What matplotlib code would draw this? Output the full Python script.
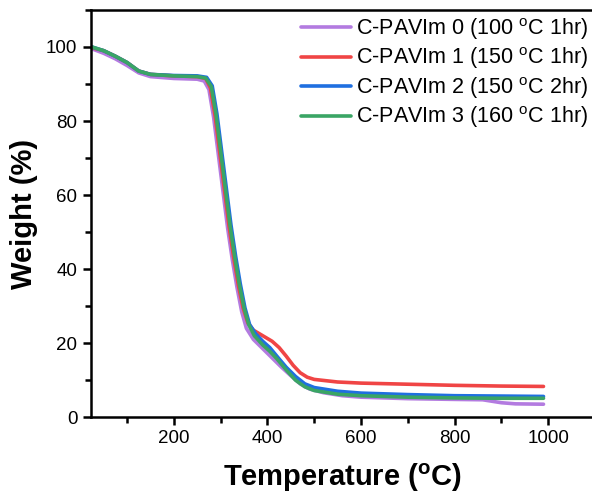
import matplotlib
matplotlib.use("Agg")
import matplotlib.pyplot as plt
from matplotlib.ticker import MultipleLocator

plt.rcParams['font.family'] = ['Liberation Sans', 'DejaVu Sans']
plt.rcParams['mathtext.fontset'] = 'custom'
plt.rcParams['mathtext.rm'] = 'Liberation Sans'

# --- data (temperature in C, weight in %) ---
t_purple = [25, 50, 75, 100, 125, 150, 200, 250, 265, 275, 285, 295, 305, 315, 325,
            335, 345, 355, 370, 390, 410, 430, 450, 470, 490, 520, 560, 600, 700,
            800, 860, 880, 900, 930, 990]
w_purple = [99.5, 98.3, 96.8, 95.0, 93.0, 92.0, 91.5, 91.3, 90.8, 88.5, 81.0, 71.0,
            61.0, 51.0, 42.5, 35.0, 28.5, 24.0, 21.0, 18.5, 16.0, 13.5, 11.2, 9.0,
            7.6, 6.6, 5.8, 5.4, 5.0, 4.8, 4.7, 4.3, 3.9, 3.6, 3.5]

t_red = [25, 50, 75, 100, 125, 150, 200, 250, 268, 278, 288, 298, 308, 318, 328,
         338, 348, 358, 370, 390, 410, 425, 440, 455, 470, 485, 500, 550, 600, 700,
         800, 900, 990]
w_red = [99.8, 99.0, 97.5, 95.8, 93.5, 92.6, 92.2, 92.0, 91.5, 89.0, 81.5, 71.5,
         61.5, 51.5, 43.0, 35.5, 29.5, 25.5, 23.5, 22.0, 20.5, 18.8, 16.5, 14.0,
         12.0, 10.8, 10.2, 9.5, 9.2, 8.9, 8.6, 8.4, 8.3]

t_blue = [25, 50, 75, 100, 125, 150, 200, 250, 270, 282, 292, 302, 312, 322, 332,
          342, 352, 362, 375, 390, 405, 420, 440, 460, 480, 500, 550, 600, 700,
          800, 900, 990]
w_blue = [100.0, 99.0, 97.5, 95.8, 93.5, 92.6, 92.3, 92.2, 91.8, 89.5, 82.0, 72.0,
          62.0, 52.0, 43.5, 36.0, 29.5, 25.0, 22.5, 20.5, 18.8, 16.5, 13.5, 11.0,
          9.0, 8.0, 7.0, 6.5, 6.1, 5.8, 5.7, 5.6]

t_green = [25, 50, 75, 100, 125, 150, 200, 250, 268, 280, 290, 300, 310, 320, 330,
           340, 350, 360, 372, 390, 405, 420, 440, 460, 480, 500, 550, 600, 700,
           800, 900, 990]
w_green = [100.0, 99.0, 97.5, 95.8, 93.5, 92.6, 92.2, 92.0, 91.6, 89.3, 81.8, 71.8,
           61.8, 51.8, 43.3, 35.8, 29.5, 25.0, 22.0, 19.5, 17.8, 15.8, 12.8, 10.0,
           8.2, 7.2, 6.2, 5.8, 5.4, 5.2, 5.1, 5.1]

labels = [r'C-PAVIm 0 (100 $^{\mathregular{o}}$C 1hr)',
          r'C-PAVIm 1 (150 $^{\mathregular{o}}$C 1hr)',
          r'C-PAVIm 2 (150 $^{\mathregular{o}}$C 2hr)',
          r'C-PAVIm 3 (160 $^{\mathregular{o}}$C 1hr)']
colors = ['#b37be0', '#f04545', '#1f6fe0', '#3aa565']

fig = plt.figure(figsize=(5.92, 4.99), dpi=100)
ax = fig.add_axes([0.153, 0.164, 1.005 - 0.153, 0.98 - 0.164])

series = [(t_purple, w_purple), (t_red, w_red), (t_blue, w_blue), (t_green, w_green)]
for (t, w), c, lab in zip(series, colors, labels):
    ax.plot(t, w, color=c, lw=2.6, label=lab, solid_capstyle='round')

ax.set_xlim(22, 1100)
ax.set_ylim(0, 110)
ax.xaxis.set_major_locator(MultipleLocator(200))
ax.xaxis.set_minor_locator(MultipleLocator(100))
ax.yaxis.set_major_locator(MultipleLocator(20))
ax.yaxis.set_minor_locator(MultipleLocator(10))
ax.set_xticks([200, 400, 600, 800, 1000])

for s in ['left', 'bottom', 'top']:
    ax.spines[s].set_linewidth(1.8)
ax.spines['right'].set_visible(False)
ax.tick_params(which='major', direction='out', length=6, width=1.8, labelsize=13.5)
ax.tick_params(which='minor', direction='out', length=4, width=1.8)
ax.tick_params(top=False, right=False)

ax.set_xlabel(r'Temperature ($^{\mathregular{o}}$C)', fontsize=21, fontweight='bold', labelpad=10)
ax.set_ylabel('Weight (%)', fontsize=21, fontweight='bold', labelpad=6)

ax.legend(loc='upper left', bbox_to_anchor=(301 / 592, 1 - 16 / 499),
          bbox_transform=fig.transFigure, frameon=False, fontsize=15.5,
          handlelength=2.3, handletextpad=0.25, labelspacing=0.17,
          borderpad=0, borderaxespad=0)

fig.savefig('out.png', dpi=100)
